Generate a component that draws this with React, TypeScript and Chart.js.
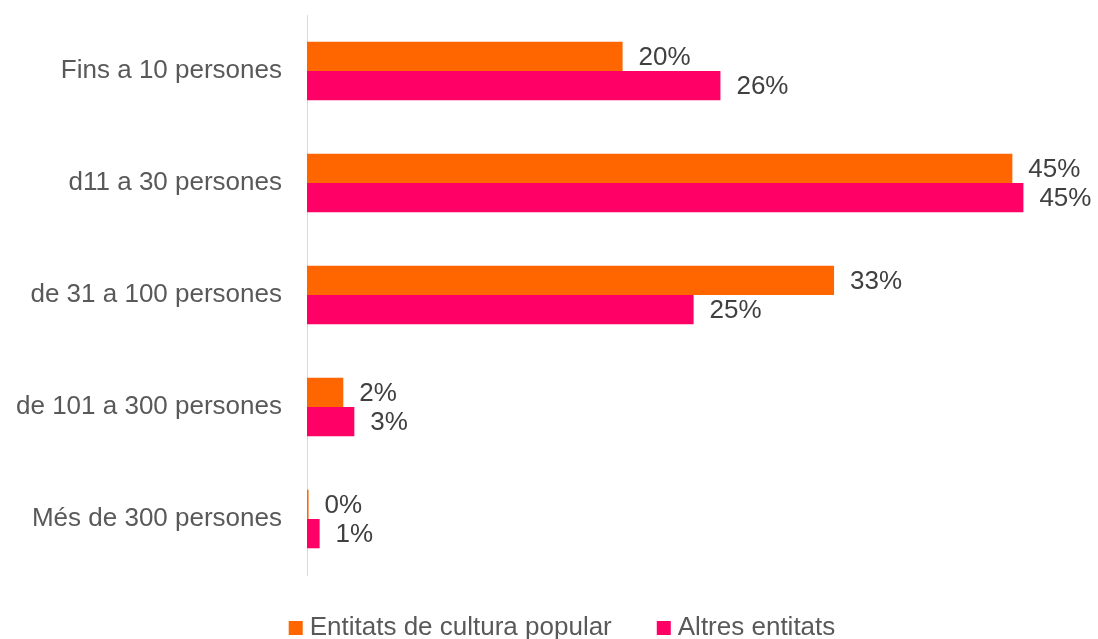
import React, { useEffect, useRef } from "react";
import { Chart, registerables } from "chart.js";

Chart.register(...registerables);

const categories = [
  "Fins a 10 persones",
  "d11 a 30 persones",
  "de 31 a 100 persones",
  "de 101 a 300 persones",
  "Més de 300 persones",
];
const seriesNames = ["Entitats de cultura popular", "Altres entitats"];
const culturaPopular = [20.0, 44.7, 33.4, 2.3, 0.1];
const altresEntitats = [26.2, 45.4, 24.5, 3.0, 0.8];
const colors = ["#FF6600", "#FF0066"];

const FONT = "'Liberation Sans', Arial, sans-serif";

const dataLabelPlugin = {
  id: "dataLabels",
  afterDatasetsDraw(chart: any) {
    const ctx = chart.ctx;
    ctx.save();
    ctx.font = `26px ${FONT}`;
    ctx.fillStyle = "#404040";
    ctx.textAlign = "left";
    ctx.textBaseline = "middle";
    chart.data.datasets.forEach((ds: any, di: number) => {
      const meta = chart.getDatasetMeta(di);
      meta.data.forEach((el: any, i: number) => {
        const v = ds.data[i];
        ctx.fillText(Math.round(v) + "%", el.x + 16, el.y + 1);
      });
    });
    ctx.restore();
  },
};

const legendPlugin = {
  id: "customLegend",
  afterDraw(chart: any) {
    const ctx = chart.ctx;
    ctx.save();
    ctx.font = `26px ${FONT}`;
    const box = 14;
    const gap = 7;
    const itemGap = 45;
    const widths = seriesNames.map((n) => ctx.measureText(n).width);
    const total =
      widths.reduce((a, w) => a + box + gap + w, 0) + itemGap * (seriesNames.length - 1);
    let x = 562 - total / 2;
    const baseline = 635;
    seriesNames.forEach((n, i) => {
      ctx.fillStyle = colors[i];
      ctx.fillRect(x, baseline - box, box, box);
      x += box + gap;
      ctx.fillStyle = "#595959";
      ctx.textAlign = "left";
      ctx.textBaseline = "alphabetic";
      ctx.fillText(n, x, baseline);
      x += widths[i] + itemGap;
    });
    ctx.restore();
  },
};

export default function App() {
  const ref = useRef<HTMLCanvasElement>(null);
  useEffect(() => {
    if (!ref.current) return;
    const chart = new Chart(ref.current, {
      type: "bar",
      data: {
        labels: categories,
        datasets: [
          {
            label: seriesNames[0],
            data: culturaPopular,
            backgroundColor: colors[0],
            categoryPercentage: 0.523,
            barPercentage: 1,
          },
          {
            label: seriesNames[1],
            data: altresEntitats,
            backgroundColor: colors[1],
            categoryPercentage: 0.523,
            barPercentage: 1,
          },
        ],
      },
      options: {
        indexAxis: "y",
        animation: false,
        responsive: false,
        devicePixelRatio: 1,
        layout: { padding: { left: 0, right: 2, top: 15, bottom: 64 } },
        plugins: {
          legend: { display: false },
          tooltip: { enabled: false },
        },
        scales: {
          x: {
            display: false,
            min: 0,
            max: 50,
          },
          y: {
            afterFit(scale: any) {
              scale.width = 307;
              scale.paddingTop = 0;
              scale.paddingBottom = 0;
            },
            grid: { display: false, drawTicks: false },
            border: { display: true, color: "#D9D9D9", width: 1 },
            ticks: {
              padding: 25,
              color: "#595959",
              font: { size: 26, family: FONT },
            },
          },
        },
      },
      plugins: [dataLabelPlugin, legendPlugin],
    });
    return () => chart.destroy();
  }, []);
  return (
    <div style={{ position: "absolute", left: 0, top: 0, width: 1098, height: 639, background: "#fff" }}>
      <canvas ref={ref} width={1098} height={639} />
    </div>
  );
}
